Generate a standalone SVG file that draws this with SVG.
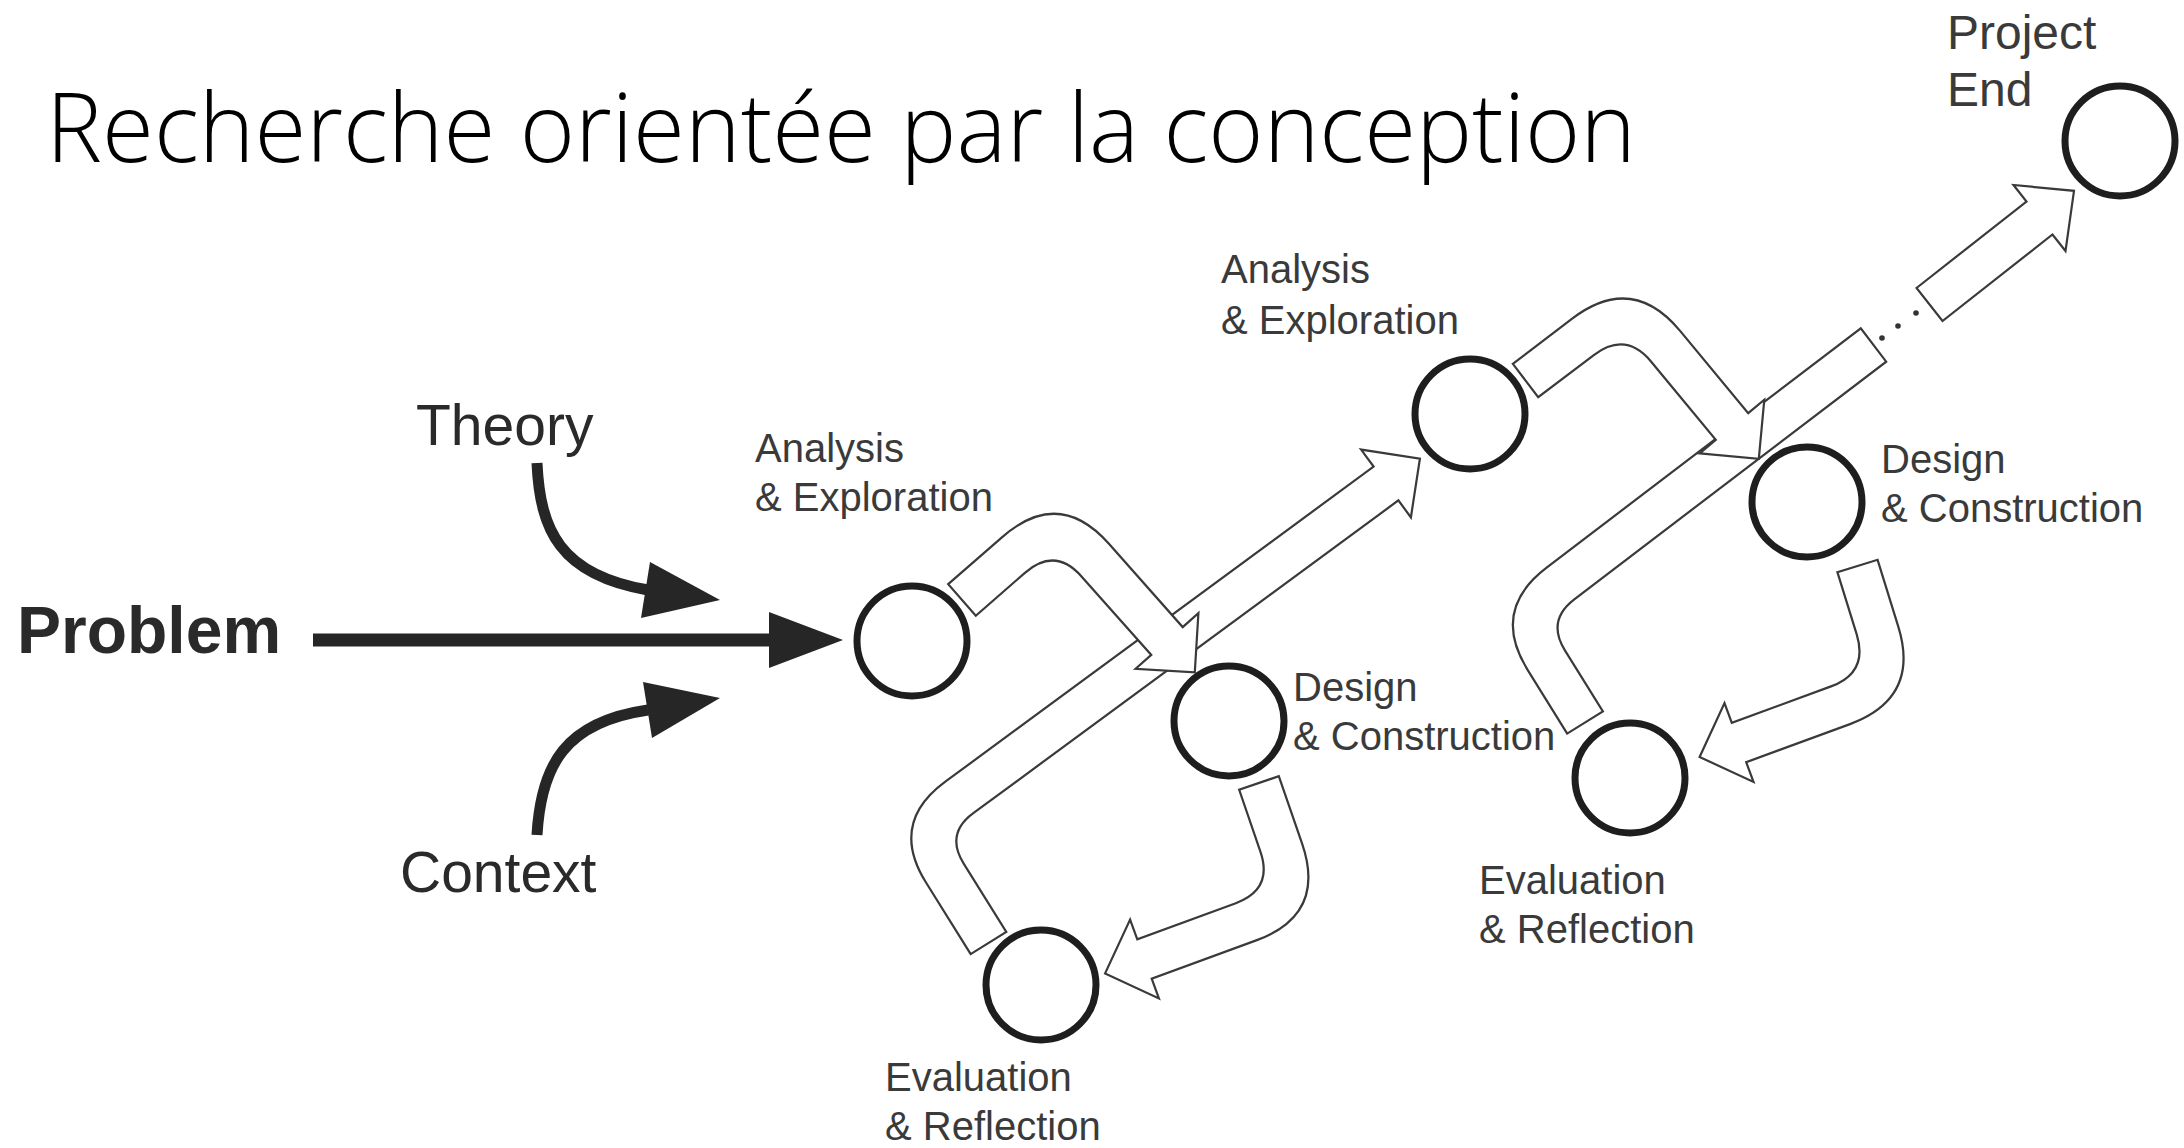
<svg xmlns="http://www.w3.org/2000/svg" width="2184" height="1148" viewBox="0 0 2184 1148">
  <style>
    .title { font-family: 'Open Sans', 'Liberation Sans', sans-serif; font-weight: 300; font-size: 96px; fill: #000; }
    .lbl { font-family: 'Liberation Sans', Arial, sans-serif; font-size: 40px; fill: #3a3a3a; }
    .end { font-size: 48px; }
    .big { font-family: 'Liberation Sans', Arial, sans-serif; font-size: 57px; fill: #2a2a2a; }
    .node { fill: #fff; stroke: #1e1e1e; stroke-width: 7; }
    .blk { fill: #fff; stroke: #3a3a3a; stroke-width: 2.2; stroke-linejoin: miter; }
    .feed { fill: none; stroke: #262626; stroke-width: 11; }
    .head { fill: #262626; }
    .dot { fill: #333; }
  </style>

  <rect width="2184" height="1148" fill="#fff"/>

  <text class="title" x="46" y="162" textLength="1590" lengthAdjust="spacingAndGlyphs">Recherche orientée par la conception</text>

  <!-- inputs and process arrows -->
  <g id="connectors">
    <!-- Problem -> first analysis -->
    <line x1="313" y1="640" x2="775" y2="640" stroke="#262626" stroke-width="13"/>
    <polygon class="head" points="769,612 843,640 769,668"/>
    <!-- Theory input -->
    <path class="feed" d="M537,463 C540,530 560,575 648,590"/>
    <polygon class="head" points="650,562 720,600 641,618"/>
    <!-- Context input -->
    <path class="feed" d="M537,835 C541,765 565,722 648,710"/>
    <polygon class="head" points="643,682 720,698 652,738"/>

    <!-- cycle 1: evaluation -> next analysis (drawn first, overlapped) -->
    <path id="c1" class="blk" d="M970.7,954.1 L926,882.5 Q888.9,823.1 945.3,781.7 L1373.6,466.6 L1361.1,449.6 L1419.9,458.6 L1410.9,517.4 L1398.4,500.4 L973.3,813.2 Q945.1,833.9 963.7,863.6 L1006.3,931.9 Z"/>
    <!-- cycle 1: analysis -> design -->
    <path id="a1" class="blk" d="M948.2,584.2 L1002.5,536.9 Q1059,487.5 1108.7,543.6 L1182.7,627.1 L1198.4,613.2 L1194.8,672.4 L1135.6,668.8 L1151.3,654.9 L1081.5,576.4 Q1055,546.5 1024.9,572.8 L975.8,615.8 Z"/>
    <!-- cycle 1: design -> evaluation -->
    <path id="b1" class="blk" d="M1278.8,776.2 L1302.1,843.7 Q1326.6,914.6 1256.2,940.4 L1151.7,978.7 L1158.9,998.4 L1105.1,973.4 L1130.1,919.6 L1137.3,939.3 L1235.8,903.2 Q1273.4,889.4 1260.4,851.6 L1239.2,789.8 Z"/>

    <!-- cycle 2: evaluation -> onwards (cut short) -->
    <path id="c2" class="blk" d="M1567.2,733.6 L1527.6,669.8 Q1490.6,610.3 1546.3,567.9 L1860.8,328.3 L1886.2,361.7 L1574.3,599.3 Q1546.4,620.5 1564.9,650.3 L1602.9,711.4 Z"/>
    <!-- cycle 2: analysis -> design -->
    <path id="a2" class="blk" d="M1512.8,363.8 L1572.5,318.4 Q1632.3,273.1 1680.1,330.9 L1748.2,413.1 L1764.3,399.7 L1758.8,458.8 L1699.7,453.3 L1715.8,439.9 L1651.2,361.7 Q1625.7,330.9 1593.8,355.1 L1538.2,397.2 Z"/>
    <!-- cycle 2: design -> evaluation -->
    <path id="b2" class="blk" d="M1877.6,559.8 L1898.3,626.6 Q1920.4,698.2 1850,724.1 L1746.2,762.2 L1753.5,781.9 L1699.6,757 L1724.5,703.1 L1731.8,722.8 L1831,686.4 Q1868.5,672.6 1856.7,634.4 L1837.4,572.2 Z"/>

    <!-- ellipsis towards the end -->
    <circle class="dot" cx="1882" cy="338" r="2.8"/>
    <circle class="dot" cx="1898" cy="326" r="2.8"/>
    <circle class="dot" cx="1916" cy="313" r="2.8"/>
    <!-- final step -> project end -->
    <path id="fin" class="blk" d="M1916.5,288 L2026.5,201.5 L2013.5,185 L2074,190.8 L2065.5,251 L2052.5,234.5 L1942.5,321 Z"/>
  </g>

  <g id="problem"><text x="17" y="653" font-family="'Liberation Sans', Arial, sans-serif" font-weight="bold" font-size="66" fill="#2a2a2a">Problem</text></g>
  <g id="theory"><text class="big" x="416" y="445">Theory</text></g>
  <g id="context"><text class="big" x="400" y="892">Context</text></g>

  <g id="analysis-1">
    <circle class="node" cx="912" cy="641" r="55"/>
    <text class="lbl" x="755" y="462">Analysis<tspan x="755" y="511">&amp; Exploration</tspan></text>
  </g>
  <g id="design-1">
    <circle class="node" cx="1229" cy="721" r="55"/>
    <text class="lbl" x="1293" y="701">Design<tspan x="1293" y="750">&amp; Construction</tspan></text>
  </g>
  <g id="evaluation-1">
    <circle class="node" cx="1041" cy="985" r="55"/>
    <text class="lbl" x="885" y="1091">Evaluation<tspan x="885" y="1140">&amp; Reflection</tspan></text>
  </g>
  <g id="analysis-2">
    <circle class="node" cx="1470" cy="414" r="55"/>
    <text class="lbl" x="1221" y="283">Analysis<tspan x="1221" y="334">&amp; Exploration</tspan></text>
  </g>
  <g id="design-2">
    <circle class="node" cx="1807" cy="502" r="55"/>
    <text class="lbl" x="1881" y="473">Design<tspan x="1881" y="522">&amp; Construction</tspan></text>
  </g>
  <g id="evaluation-2">
    <circle class="node" cx="1630" cy="778" r="55"/>
    <text class="lbl" x="1479" y="894">Evaluation<tspan x="1479" y="943">&amp; Reflection</tspan></text>
  </g>
  <g id="project-end">
    <circle class="node" cx="2120" cy="141" r="55"/>
    <text class="lbl end" x="1947" y="49">Project<tspan x="1947" y="106">End</tspan></text>
  </g>
</svg>
